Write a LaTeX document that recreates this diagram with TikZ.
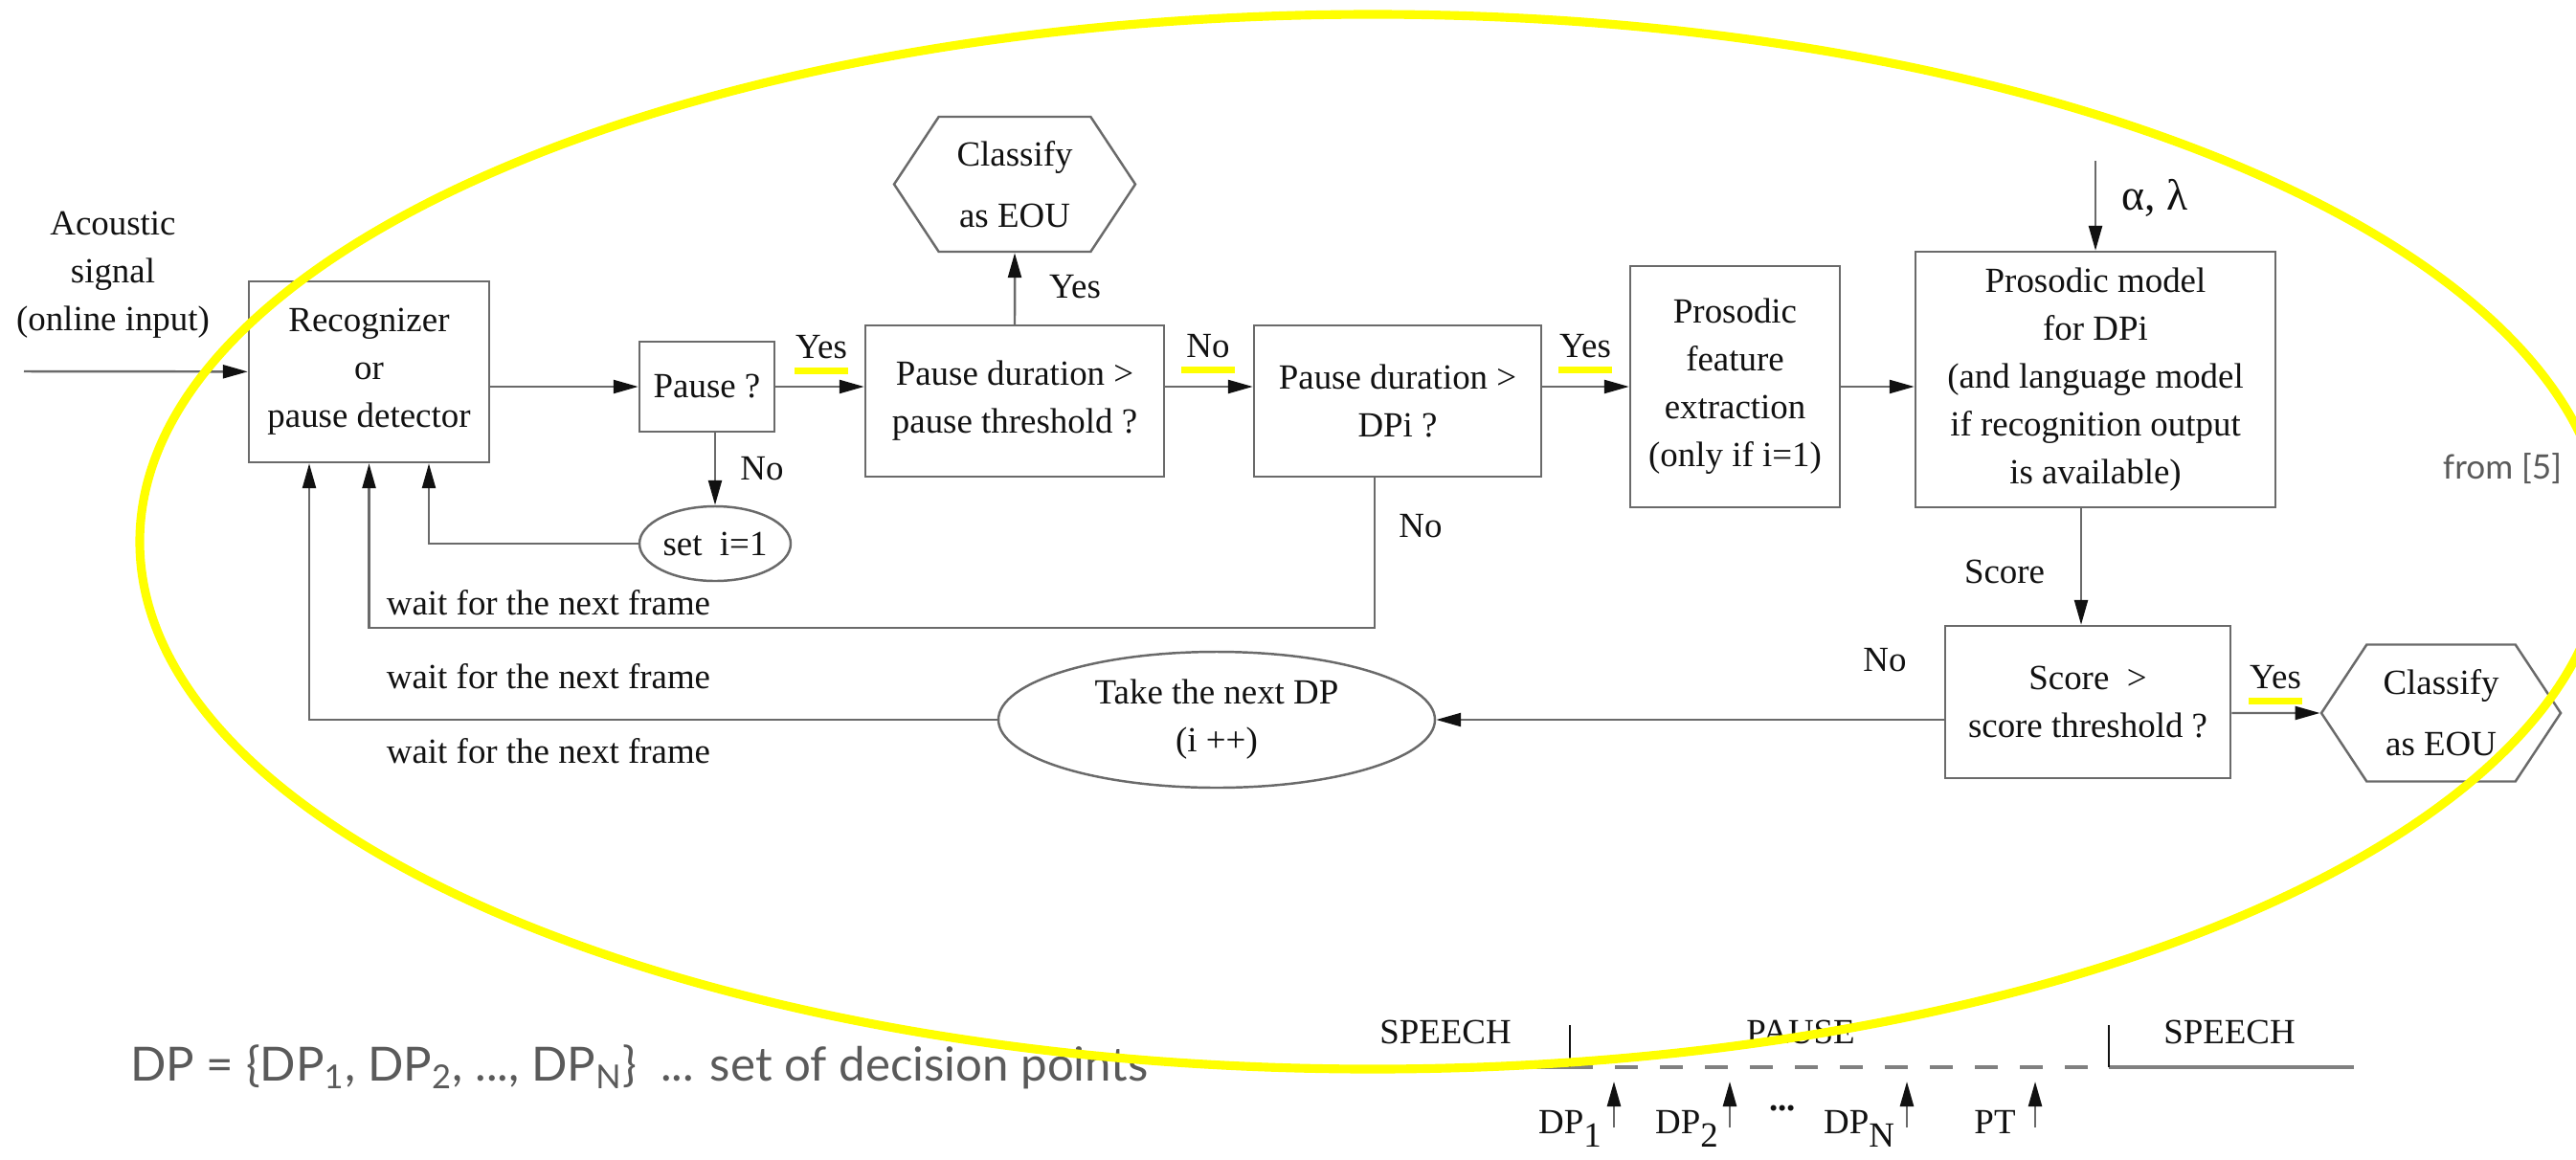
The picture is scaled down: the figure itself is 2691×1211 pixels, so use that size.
\documentclass[tikz,border=0pt]{standalone}
\usepackage{fontspec}
\setmainfont{Liberation Serif}
\newfontfamily\slidefont{Lato}
\usepackage{tikz}
\usetikzlibrary{arrows.meta, positioning, shapes.geometric, shapes.symbols, calc}
\definecolor{ink}{HTML}{111111}
\definecolor{wire}{HTML}{6A6A6A}
\definecolor{slidegray}{HTML}{5A5A5A}
\definecolor{marker}{HTML}{FFFF00}
\newcommand\diagfont{\fontsize{10.5}{14.2}\selectfont}
\newcommand\markunder[1]{\draw[hilite] ([shift={(-2.8mm,-1.2mm)}]#1.south) -- ++(5.6mm,0);}
\newcommand\lowsub[1]{\raisebox{-1.4mm}{#1}}
\tikzset{
  box/.style    = {draw=wire, line width=0.7pt, rectangle, align=center,
                   inner sep=2pt, font=\diagfont, text=ink},
  hexa/.style   = {box, shape=signal, signal to=west and east, signal pointer angle=113},
  oval/.style   = {box, ellipse, inner sep=0pt},
  flow/.style   = {-{Triangle[length=2.6mm, width=1.4mm, color=ink]}, draw=wire, line width=0.7pt},
  note/.style   = {font=\diagfont, text=ink, inner sep=0pt, align=center},
  slide/.style  = {font=\slidefont, text=slidegray, inner sep=0pt},
  hilite/.style = {draw=marker, line width=2pt},
  ring/.style   = {draw=marker, line width=2.6pt},
  track/.style  = {draw=black!50, line width=1.1pt},
}

\begin{document}
\begin{tikzpicture}[x=0.1mm, y=-0.1mm]
  \useasboundingbox (0,0) rectangle (2691,1211);
  \fill[white] (0,0) rectangle (2691,1211);

  % main chain
  \node[note] (acou) at (118,287) {Acoustic\\signal\\(online input)};
  \coordinate (src) at (25,388);
  \node[box, minimum width=25.1mm, minimum height=18.9mm] (rec) at (385.5,388.5) {Recognizer\\or\\pause detector};
  \node[box, minimum width=14.1mm, minimum height=9.4mm] (pause) at (738.5,404) {Pause ?};
  \node[box, minimum width=31.2mm, minimum height=15.8mm] (pdur) at (1060,419) {Pause duration >\\pause threshold ?};
  \node[hexa, minimum width=25.2mm, minimum height=14.1mm] (eouA) at (1060,192.5) {Classify\\[4pt]as EOU};
  \node[box, minimum width=30mm, minimum height=15.8mm] (dpi) at (1460,419) {Pause duration >\\DPi ?};
  \node[box, minimum width=21.9mm, minimum height=25.2mm] (feat) at (1812.5,404) {Prosodic\\feature\\extraction\\(only if i=1)};
  \node[box, minimum width=37.6mm, minimum height=26.7mm] (model) at (2189,396.5) {Prosodic model\\for DPi\\(and language model\\if recognition output\\is available)};
  \coordinate (coef) at (2189,168);
  \node[oval, minimum width=15.8mm, minimum height=7.8mm] (seti) at (747,568) {set\ \ i=1};
  \node[box, minimum width=29.8mm, minimum height=15.9mm] (score) at (2181,733.5) {Score\ \ >\\score threshold ?};
  \node[hexa, minimum width=25mm, minimum height=14.3mm] (eouB) at (2550,745) {Classify\\[4pt]as EOU};
  \node[oval, minimum width=45.6mm, minimum height=14.2mm] (next) at (1271,752) {Take the next DP\\(i ++)};

  \draw[flow] (src) -- (rec);
  \draw[flow] (rec.east |- pause) -- (pause);
  \draw[flow] (pause) -- (pdur.west |- pause);
  \draw[flow] (pdur.east |- pause) -- (dpi.west |- pause);
  \draw[flow] (dpi.east |- feat) -- (feat);
  \draw[flow] (feat) -- (model.west |- feat);
  \draw[flow] (pdur) -- (eouA);
  \draw[flow] (coef) -- (model);
  \draw[flow] (pause.south -| seti) -- (seti);
  \draw[flow] (seti.west) -| ([xshift=6.25mm]rec.south);
  \draw[flow] ([xshift=-2.4mm]dpi.south) -- ++(0,157) -| (rec.south);
  \draw[flow] (next.west) -| ([xshift=-6.25mm]rec.south);
  \draw[flow] ([xshift=-1.5mm]model.south) -- ([xshift=-1.5mm]model.south |- score.north);
  \draw[flow] (score.west |- next) -- (next);
  \draw[flow] (score.east |- eouB) -- (eouB);

  % labels
  \node[note] (yesA) at (858,363) {Yes};
  \node[note] (noA) at (1262,362) {No};
  \node[note] (yesB) at (1656,362) {Yes};
  \node[note] (yesC) at (2377,708) {Yes};
  \node[note] at (1123,300) {Yes};
  \node[note] at (796,490) {No};
  \node[note] at (1484,550) {No};
  \node[note] at (1969,690) {No};
  \node[note] at (2094,597) {Score};
  \node[note, font=\fontsize{13}{15}\selectfont] at (2251,207) {α, λ};
  \node[note] at (573,630) {wait for the next frame};
  \node[note] at (573,707) {wait for the next frame};
  \node[note] at (573,785) {wait for the next frame};
  \markunder{yesA}
  \markunder{noA}
  \markunder{yesB}
  \markunder{yesC}

  % speech / pause timeline
  \draw[track] (1415,1115) -- (1640,1115);
  \draw[track, dash pattern=on 2.4mm off 2.3mm] (1640,1115) -- (2203,1115);
  \draw[track] (2203,1115) -- (2459,1115);
  \draw[draw=ink, line width=0.5pt] (1640,1071) -- (1640,1115) (2203,1071) -- (2203,1115);
  \foreach \x in {1686,1807,1992,2126}
    \draw[flow] (\x,1178) -- (\x,1130);
  \node[note] at (1510,1078) {SPEECH};
  \node[note] at (1881,1078) {PAUSE};
  \node[note] at (2329,1078) {SPEECH};
  \node[note, anchor=base] at (1640,1184) {DP\lowsub{1}};
  \node[note, anchor=base] at (1762,1184) {DP\lowsub{2}};
  \node[note, font=\diagfont\bfseries] at (1862,1158) {...};
  \node[note, anchor=base] at (1942,1184) {DP\lowsub{N}};
  \node[note, anchor=base] at (2084,1184) {PT};

  \node[slide, font=\slidefont\fontsize{10}{12}\selectfont] at (2614,490) {from [5]};
  \node[slide, font=\slidefont\fontsize{14}{16}\selectfont] at (668,1115)
    {DP = \{DP\textsubscript{1}, DP\textsubscript{2}, ..., DP\textsubscript{N}\}\ \ ... set of decision points};

  % highlight ring
  \begin{scope}
    \clip (0,0) rectangle (2691,1211);
    \draw[ring] (1434,566) ellipse [x radius=1288, y radius=551];
  \end{scope}
\end{tikzpicture}
\end{document}
